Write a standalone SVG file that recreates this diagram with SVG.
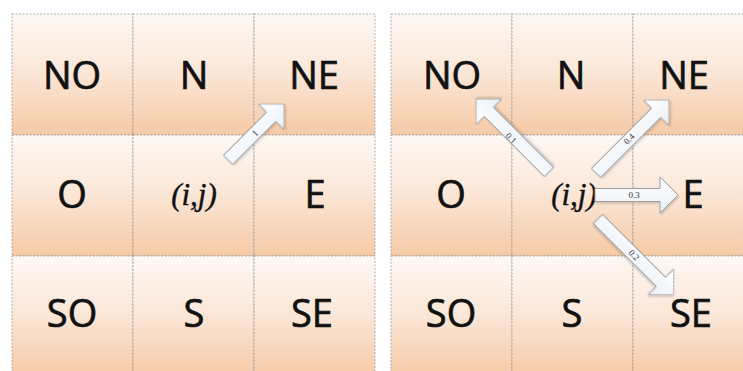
<svg xmlns="http://www.w3.org/2000/svg" width="743" height="371" viewBox="0 0 743 371">
<defs>
<linearGradient id="cellg" x1="0" y1="0" x2="0" y2="1">
<stop offset="0" stop-color="#fef8f3"/>
<stop offset="0.45" stop-color="#fbe8da"/>
<stop offset="1" stop-color="#f6caa6"/>
</linearGradient>
<linearGradient id="arrg" x1="0" y1="0" x2="0" y2="1">
<stop offset="0" stop-color="#ffffff"/>
<stop offset="1" stop-color="#eaf0f7"/>
</linearGradient>
<filter id="sh" x="-20%" y="-20%" width="140%" height="140%">
<feDropShadow dx="1" dy="1.5" stdDeviation="1" flood-color="#000" flood-opacity="0.18"/>
</filter>
</defs>
<style>
.cell rect{fill:url(#cellg);stroke:#9a9a9a;stroke-width:0.8;stroke-dasharray:2 1.5}
.lbl{font-family:"Open Sans","Noto Sans",sans-serif;font-size:38px;fill:#111;stroke:#111;stroke-width:0.7;text-anchor:middle}
.ij{font-family:"Liberation Serif","Times New Roman",serif;font-style:italic;font-size:31px;fill:#111;stroke:#111;stroke-width:0.4;text-anchor:middle}
.arr{fill:url(#arrg);stroke:#a0a0a0;stroke-width:1;filter:url(#sh)}
.w{font-family:"Liberation Serif","Times New Roman",serif;font-size:9px;fill:#333;text-anchor:middle}
</style>
<rect width="743" height="371" fill="#ffffff"/>

<!-- Left grid -->
<g id="L-NO" class="cell"><rect x="12" y="14" width="121" height="121"/><text class="lbl" x="72" y="89">NO</text></g>
<g id="L-N" class="cell"><rect x="133" y="14" width="121" height="121"/><text class="lbl" x="194" y="89">N</text></g>
<g id="L-NE" class="cell"><rect x="254" y="14" width="121" height="121"/><text class="lbl" x="314" y="89">NE</text></g>
<g id="L-O" class="cell"><rect x="12" y="135" width="121" height="121"/><text class="lbl" x="72" y="208">O</text></g>
<g id="L-IJ" class="cell"><rect x="133" y="135" width="121" height="121"/><text class="ij" x="194" y="205">(i,j)</text></g>
<g id="L-E" class="cell"><rect x="254" y="135" width="121" height="121"/><text class="lbl" x="315" y="208">E</text></g>
<g id="L-SO" class="cell"><rect x="12" y="256" width="121" height="121"/><text class="lbl" x="72" y="327">SO</text></g>
<g id="L-S" class="cell"><rect x="133" y="256" width="121" height="121"/><text class="lbl" x="194" y="327">S</text></g>
<g id="L-SE" class="cell"><rect x="254" y="256" width="121" height="121"/><text class="lbl" x="312" y="327">SE</text></g>

<!-- Right grid -->
<g id="R-NO" class="cell"><rect x="391" y="14" width="121" height="121"/><text class="lbl" x="452" y="89">NO</text></g>
<g id="R-N" class="cell"><rect x="512" y="14" width="121" height="121"/><text class="lbl" x="571" y="89">N</text></g>
<g id="R-NE" class="cell"><rect x="633" y="14" width="121" height="121"/><text class="lbl" x="684" y="89">NE</text></g>
<g id="R-O" class="cell"><rect x="391" y="135" width="121" height="121"/><text class="lbl" x="451" y="208">O</text></g>
<g id="R-IJ" class="cell"><rect x="512" y="135" width="121" height="121"/><text class="ij" x="574" y="205">(i,j)</text></g>
<g id="R-E" class="cell"><rect x="633" y="135" width="121" height="121"/><text class="lbl" x="693" y="208">E</text></g>
<g id="R-SO" class="cell"><rect x="391" y="256" width="121" height="121"/><text class="lbl" x="451" y="327">SO</text></g>
<g id="R-S" class="cell"><rect x="512" y="256" width="121" height="121"/><text class="lbl" x="572" y="327">S</text></g>
<g id="R-SE" class="cell"><rect x="633" y="256" width="121" height="121"/><text class="lbl" x="691" y="327">SE</text></g>

<!-- Connectors -->
<g id="connectors">
<g transform="translate(228,160) rotate(-45)"><path class="arr" d="M0,-6.5 H61 V-18 L79,0 L61,18 V6.5 H0 Z"/></g>
<text class="w" transform="translate(255,133) rotate(-45)" dy="3">1</text>

<g transform="translate(549,172) rotate(-135)"><path class="arr" d="M0,-6.5 H85 V-18 L103,0 L85,18 V6.5 H0 Z"/></g>
<text class="w" transform="translate(511,138) rotate(45)" dy="3">0.1</text>

<g transform="translate(596,173) rotate(-45)"><path class="arr" d="M0,-6.5 H85 V-18 L103,0 L85,18 V6.5 H0 Z"/></g>
<text class="w" transform="translate(629,139) rotate(-45)" dy="3">0.4</text>

<g transform="translate(595,195)"><path class="arr" d="M0,-6.5 H65 V-18 L83,0 L65,18 V6.5 H0 Z"/></g>
<text class="w" x="634" y="195" dy="3">0.3</text>

<g transform="translate(598,219) rotate(45)"><path class="arr" d="M0,-6.5 H89 V-18 L107,0 L89,18 V6.5 H0 Z"/></g>
<text class="w" transform="translate(634,255) rotate(45)" dy="3">0.2</text>
</g>
</svg>
